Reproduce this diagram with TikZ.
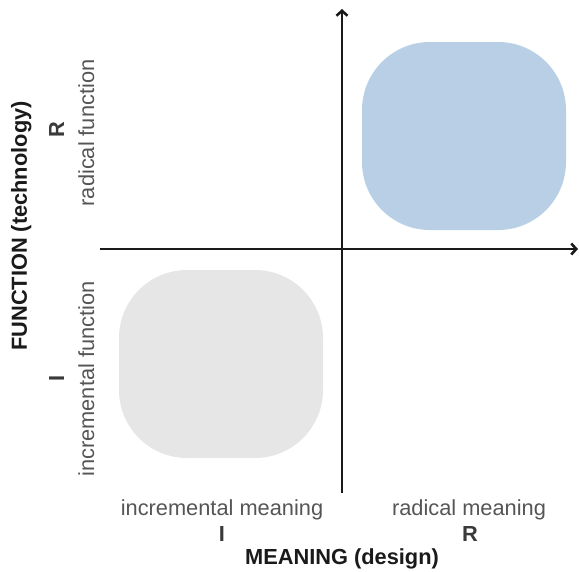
\documentclass[tikz,border=0pt]{standalone}
\usepackage{fontspec}
\setmainfont{Liberation Sans}
\usetikzlibrary{arrows.meta}
\definecolor{boxblue}{HTML}{B9CFE6}
\definecolor{boxgray}{HTML}{E6E6E6}
\definecolor{txtgray}{HTML}{555555}
\definecolor{lblgray}{HTML}{3A3A3A}
\definecolor{axisblack}{HTML}{1A1A1A}
\tikzset{
  quad/.style={rounded corners=68pt, draw=none},
  axisline/.style={draw=axisblack, line width=1.3pt, -{Straight Barb[length=5pt,width=11pt,line width=2.6pt]}},
  axistxt/.style={inner sep=0pt, anchor=base, text=txtgray, font=\fontsize{21.8}{26}\selectfont},
  axisletter/.style={inner sep=0pt, anchor=base, text=lblgray, font=\fontsize{21.8}{26}\selectfont\bfseries},
  axistitle/.style={inner sep=0pt, anchor=base, text=axisblack, font=\fontsize{21.8}{26}\selectfont\bfseries},
}
\begin{document}
\begin{tikzpicture}[x=1pt,y=-1pt]
\useasboundingbox (0,0) rectangle (579,571);
% quadrant areas
\fill[boxblue, quad] (362,42) rectangle (566,230);
\fill[boxgray, quad] (119,270) rectangle (323,458);
% axes
\coordinate (vbot) at (342,493);
\coordinate (vtop) at (342,9);
\coordinate (hleft) at (100,249);
\coordinate (hright) at (578,249);
\draw[axisline] (vbot) -- (vtop);
\draw[axisline] (hleft) -- (hright);
% horizontal axis labels
\node[axistxt] (im) at (222,515) {incremental meaning};
\node[axistxt] (rm) at (469,515) {radical meaning};
\node[axisletter] (hi) at (222,541) {I};
\node[axisletter] (hr) at (470,541) {R};
\node[axistitle] (mt) at (342,564) {MEANING (design)};
% vertical axis labels
\node[axistxt, rotate=90] (rf) at (94,133) {radical function};
\node[axistxt, rotate=90] (inf) at (94,379) {incremental function};
\node[axisletter, rotate=90] (vr) at (64,130) {R};
\node[axisletter, rotate=90] (vi) at (64,378) {I};
\node[axistitle, rotate=90] (ft) at (27,226) {FUNCTION (technology)};
\end{tikzpicture}
\end{document}
